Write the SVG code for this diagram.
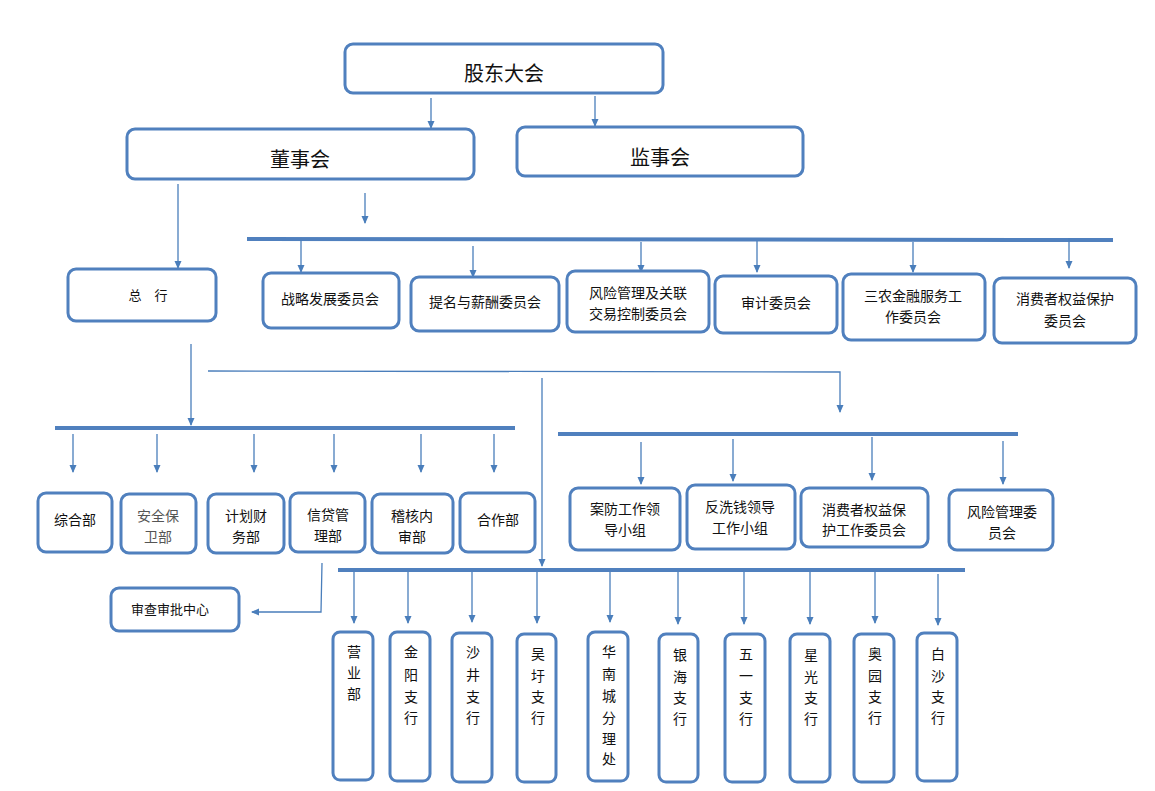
<svg xmlns="http://www.w3.org/2000/svg" width="1155" height="791" viewBox="0 0 1155 791">
<defs>
<marker id="ah" markerWidth="8" markerHeight="8" refX="7" refY="4" orient="auto" markerUnits="userSpaceOnUse">
<path d="M0,0.5 L8,4 L0,7.5 Z" fill="#4a7ebb"/>
</marker>
</defs>
<style>
.box{fill:#fff;stroke:#5080be;stroke-width:3}
.ln{fill:none;stroke:#4a7ebb;stroke-width:1.3}
.bar{fill:none;stroke:#5080be;stroke-width:4}
text{font-family:"Noto Sans CJK SC","Liberation Sans",sans-serif;fill:#111;text-anchor:middle}
.t20{font-size:20px}
.t14{font-size:14px}
.t13{font-size:13px}
.g{fill:#555}
</style>
<rect width="1155" height="791" fill="#fff"/>
<g id="connectors">
<line class="ln" x1="431" y1="98" x2="431" y2="128" marker-end="url(#ah)"/>
<line class="ln" x1="595" y1="96" x2="595" y2="126" marker-end="url(#ah)"/>
<line class="ln" x1="178" y1="184" x2="178" y2="268" marker-end="url(#ah)"/>
<line class="ln" x1="365" y1="193" x2="365" y2="223" marker-end="url(#ah)"/>
<line class="bar" x1="247" y1="239" x2="1113" y2="240"/>
<line class="ln" x1="301" y1="240" x2="301" y2="272" marker-end="url(#ah)"/>
<line class="ln" x1="473" y1="246" x2="473" y2="277" marker-end="url(#ah)"/>
<line class="ln" x1="641" y1="242" x2="641" y2="272" marker-end="url(#ah)"/>
<line class="ln" x1="757" y1="241" x2="757" y2="272" marker-end="url(#ah)"/>
<line class="ln" x1="913" y1="242" x2="913" y2="272" marker-end="url(#ah)"/>
<line class="ln" x1="1069" y1="238" x2="1069" y2="268" marker-end="url(#ah)"/>
<line class="ln" x1="191" y1="344" x2="191" y2="425" marker-end="url(#ah)"/>
<line class="bar" x1="55" y1="428" x2="515" y2="428"/>
<polyline class="ln" points="208,371 840,372 840,412" marker-end="url(#ah)"/>
<line class="ln" x1="542" y1="378" x2="542" y2="566" marker-end="url(#ah)"/>
<line class="bar" x1="558" y1="434" x2="1018" y2="434"/>
<line class="ln" x1="641" y1="442" x2="641" y2="484" marker-end="url(#ah)"/>
<line class="ln" x1="733" y1="439" x2="733" y2="481" marker-end="url(#ah)"/>
<line class="ln" x1="872" y1="437" x2="872" y2="480" marker-end="url(#ah)"/>
<line class="ln" x1="1003" y1="441" x2="1003" y2="484" marker-end="url(#ah)"/>
<line class="ln" x1="73" y1="434" x2="73" y2="472" marker-end="url(#ah)"/>
<line class="ln" x1="157" y1="434" x2="157" y2="472" marker-end="url(#ah)"/>
<line class="ln" x1="254" y1="434" x2="254" y2="472" marker-end="url(#ah)"/>
<line class="ln" x1="334" y1="434" x2="334" y2="472" marker-end="url(#ah)"/>
<line class="ln" x1="421" y1="434" x2="421" y2="472" marker-end="url(#ah)"/>
<line class="ln" x1="494" y1="434" x2="494" y2="472" marker-end="url(#ah)"/>
<polyline class="ln" points="322,563 321,612 252,612" marker-end="url(#ah)"/>
<line class="bar" x1="338" y1="570" x2="965" y2="570"/>
<line class="ln" x1="354" y1="572" x2="354" y2="623" marker-end="url(#ah)"/>
<line class="ln" x1="408" y1="572" x2="408" y2="623" marker-end="url(#ah)"/>
<line class="ln" x1="472" y1="572" x2="472" y2="622" marker-end="url(#ah)"/>
<line class="ln" x1="537" y1="572" x2="537" y2="623" marker-end="url(#ah)"/>
<line class="ln" x1="610" y1="572" x2="610" y2="622" marker-end="url(#ah)"/>
<line class="ln" x1="678" y1="572" x2="678" y2="624" marker-end="url(#ah)"/>
<line class="ln" x1="744" y1="572" x2="744" y2="624" marker-end="url(#ah)"/>
<line class="ln" x1="810" y1="572" x2="810" y2="624" marker-end="url(#ah)"/>
<line class="ln" x1="875" y1="572" x2="875" y2="623" marker-end="url(#ah)"/>
<line class="ln" x1="938" y1="574" x2="938" y2="625" marker-end="url(#ah)"/>
</g>
<g id="n-gddh"><rect class="box" x="345" y="44" width="318" height="49" rx="8"/><text class="t20" x="504" y="81">股东大会</text></g>
<g id="n-dsh"><rect class="box" x="127" y="129" width="347" height="50" rx="8"/><text class="t20" x="300" y="167">董事会</text></g>
<g id="n-jsh"><rect class="box" x="517" y="127" width="286" height="49" rx="8"/><text class="t20" x="660" y="165">监事会</text></g>
<g id="n-zh"><rect class="box" x="68" y="269" width="148" height="52" rx="8"/><text class="t13" x="148" y="300">总　行</text></g>
<g id="n-zl"><rect class="box" x="263" y="273" width="136" height="55" rx="8"/><text class="t14" x="330" y="304">战略发展委员会</text></g>
<g id="n-tm"><rect class="box" x="411" y="277" width="148" height="54" rx="8"/><text class="t14" x="485" y="307">提名与薪酬委员会</text></g>
<g id="n-fx"><rect class="box" x="567" y="271" width="142" height="61" rx="8"/><text class="t14" x="638" y="298">风险管理及关联</text><text class="t14" x="638" y="319">交易控制委员会</text></g>
<g id="n-sj"><rect class="box" x="715" y="276" width="122" height="57" rx="8"/><text class="t14" x="776" y="308">审计委员会</text></g>
<g id="n-sn"><rect class="box" x="843" y="274" width="142" height="66" rx="8"/><text class="t14" x="913" y="301">三农金融服务工</text><text class="t14" x="913" y="322">作委员会</text></g>
<g id="n-xf"><rect class="box" x="994" y="278" width="142" height="65" rx="8"/><text class="t14" x="1065" y="304">消费者权益保护</text><text class="t14" x="1065" y="326">委员会</text></g>
<g id="n-af"><rect class="box" x="570" y="488" width="110" height="62" rx="8"/><text class="t14" x="625" y="514">案防工作领</text><text class="t14" x="625" y="535">导小组</text></g>
<g id="n-fxq"><rect class="box" x="687" y="485" width="108" height="64" rx="8"/><text class="t14" x="740" y="512">反洗钱领导</text><text class="t14" x="740" y="533">工作小组</text></g>
<g id="n-xfgz"><rect class="box" x="801" y="488" width="127" height="59" rx="8"/><text class="t14" x="864" y="515">消费者权益保</text><text class="t14" x="864" y="535">护工作委员会</text></g>
<g id="n-fxgl"><rect class="box" x="949" y="490" width="104" height="60" rx="8"/><text class="t14" x="1002" y="517">风险管理委</text><text class="t14" x="1002" y="538">员会</text></g>
<g id="n-zhb"><rect class="box" x="38" y="493" width="74" height="59" rx="8"/><text class="t14" x="75" y="525">综合部</text></g>
<g id="n-aq"><rect class="box" x="121" y="494" width="75" height="59" rx="8"/><text class="t14 g" x="158" y="521">安全保</text><text class="t14 g" x="158" y="542">卫部</text></g>
<g id="n-jh"><rect class="box" x="208" y="494" width="76" height="59" rx="8"/><text class="t14" x="246" y="521">计划财</text><text class="t14" x="246" y="542">务部</text></g>
<g id="n-xd"><rect class="box" x="290" y="493" width="75" height="59" rx="8"/><text class="t14" x="328" y="520">信贷管</text><text class="t14" x="328" y="541">理部</text></g>
<g id="n-jhns"><rect class="box" x="372" y="494" width="81" height="59" rx="8"/><text class="t14" x="412" y="521">稽核内</text><text class="t14" x="412" y="542">审部</text></g>
<g id="n-hz"><rect class="box" x="460" y="493" width="75" height="59" rx="8"/><text class="t14" x="498" y="525">合作部</text></g>
<g id="n-scsp"><rect class="box" x="111" y="588" width="128" height="43" rx="8"/><text class="t13" x="170" y="614">审查审批中心</text></g>
<g id="n-yyb"><rect class="box" x="333" y="632" width="40" height="148" rx="7"/><text class="t14" x="354" y="657">营</text><text class="t14" x="354" y="678">业</text><text class="t14" x="354" y="699">部</text></g>
<g id="n-jy"><rect class="box" x="390" y="632" width="40" height="149" rx="7"/><text class="t14" x="411" y="657">金</text><text class="t14" x="411" y="680">阳</text><text class="t14" x="411" y="702">支</text><text class="t14" x="411" y="723">行</text></g>
<g id="n-sjz"><rect class="box" x="452" y="633" width="40" height="149" rx="7"/><text class="t14" x="473" y="657">沙</text><text class="t14" x="473" y="680">井</text><text class="t14" x="473" y="702">支</text><text class="t14" x="473" y="723">行</text></g>
<g id="n-wx"><rect class="box" x="517" y="634" width="39" height="148" rx="7"/><text class="t14" x="538" y="659">吴</text><text class="t14" x="538" y="681">圩</text><text class="t14" x="538" y="702">支</text><text class="t14" x="538" y="723">行</text></g>
<g id="n-hnc"><rect class="box" x="588" y="632" width="40" height="149" rx="7"/><text class="t14" x="609" y="657">华</text><text class="t14" x="609" y="679">南</text><text class="t14" x="609" y="701">城</text><text class="t14" x="609" y="723">分</text><text class="t14" x="609" y="744">理</text><text class="t14" x="609" y="764">处</text></g>
<g id="n-yh"><rect class="box" x="659" y="634" width="39" height="148" rx="7"/><text class="t14" x="680" y="660">银</text><text class="t14" x="680" y="682">海</text><text class="t14" x="680" y="703">支</text><text class="t14" x="680" y="724">行</text></g>
<g id="n-wy"><rect class="box" x="725" y="634" width="40" height="148" rx="7"/><text class="t14" x="746" y="659">五</text><text class="t14" x="746" y="681">一</text><text class="t14" x="746" y="703">支</text><text class="t14" x="746" y="724">行</text></g>
<g id="n-xg"><rect class="box" x="790" y="634" width="40" height="148" rx="7"/><text class="t14" x="811" y="660">星</text><text class="t14" x="811" y="682">光</text><text class="t14" x="811" y="703">支</text><text class="t14" x="811" y="724">行</text></g>
<g id="n-ay"><rect class="box" x="854" y="634" width="40" height="148" rx="7"/><text class="t14" x="875" y="659">奥</text><text class="t14" x="875" y="681">园</text><text class="t14" x="875" y="702">支</text><text class="t14" x="875" y="723">行</text></g>
<g id="n-bs"><rect class="box" x="917" y="633" width="40" height="148" rx="7"/><text class="t14" x="938" y="659">白</text><text class="t14" x="938" y="681">沙</text><text class="t14" x="938" y="702">支</text><text class="t14" x="938" y="723">行</text></g>
</svg>
